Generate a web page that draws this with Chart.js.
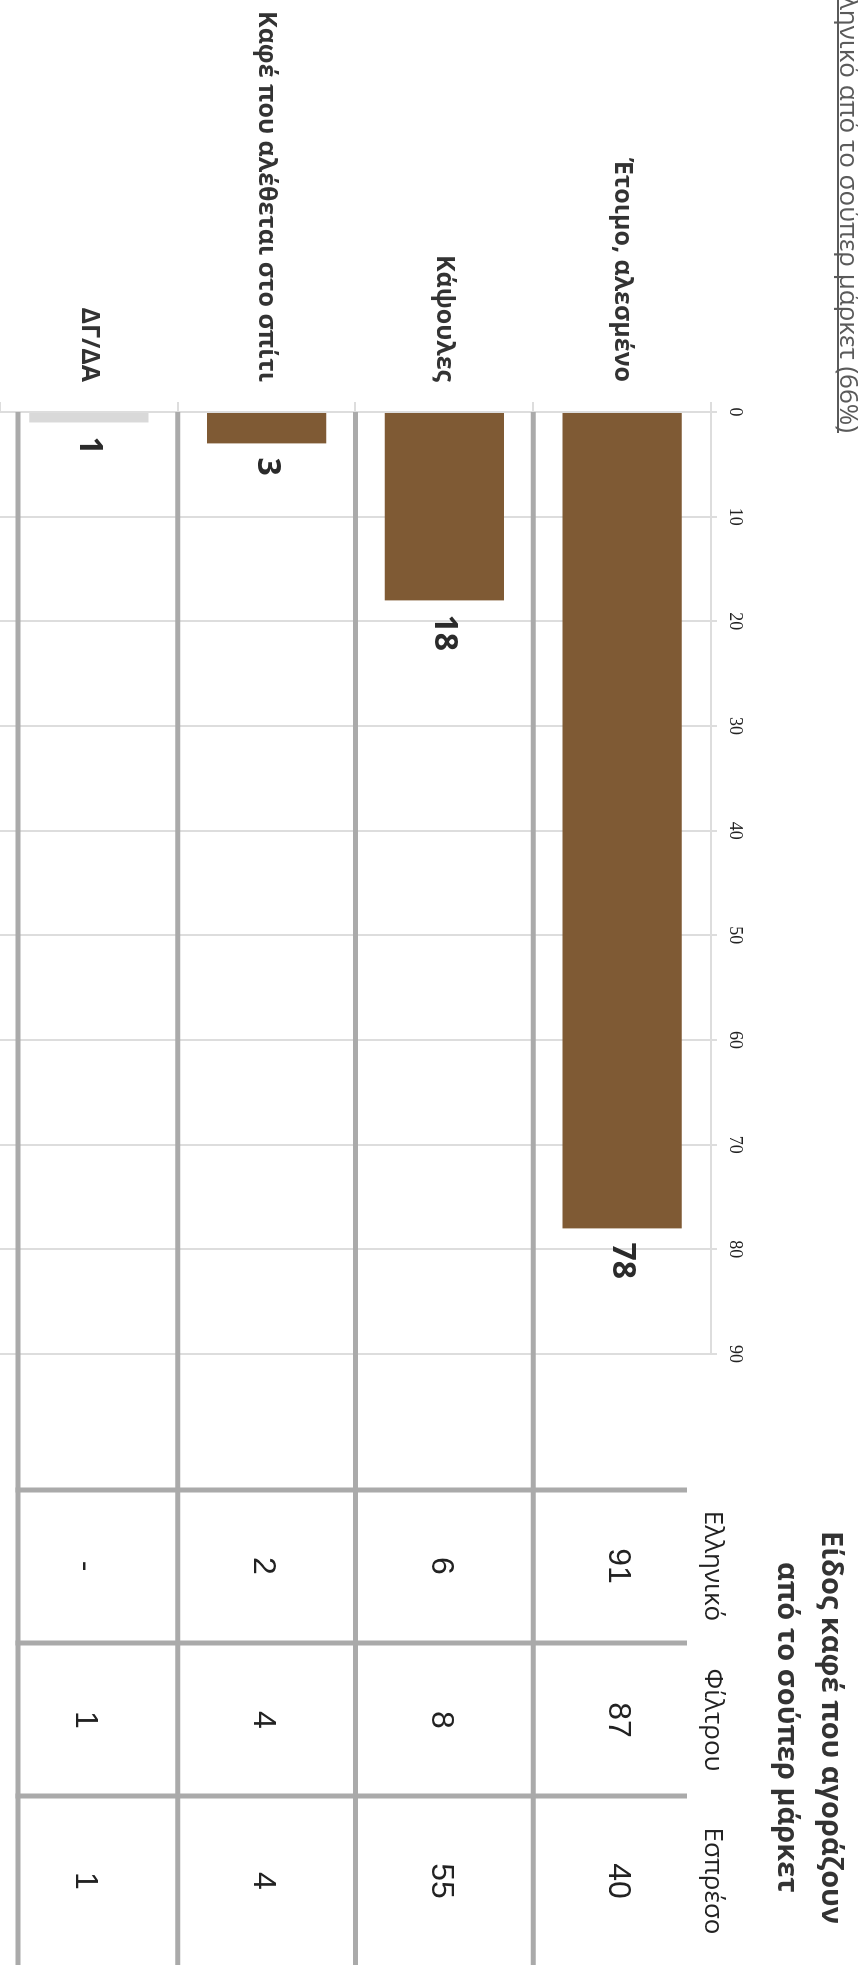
<!DOCTYPE html>
<html>
<head>
<meta charset="utf-8">
<script src="https://cdn.jsdelivr.net/npm/chart.js@4.4.1/dist/chart.umd.min.js"></script>
<style>
  html, body { margin: 0; padding: 0; background: #fff; }
  body { width: 858px; height: 1975px; overflow: hidden; position: relative; }
  /* the chart is laid out landscape and turned a quarter clockwise */
  #stage {
    position: absolute; left: 0; top: 0;
    width: 1975px; height: 858px; overflow: hidden; background: #fff;
    transform-origin: 0 0; transform: translateX(858px) rotate(90deg);
  }
  #stage canvas { position: absolute; left: 0; top: 0; }
  #note {
    position: absolute; right: 1542px; top: -3px; white-space: nowrap;
    font: 26px 'Open Sans', sans-serif; line-height: 22px; color: #5a5a5a;
    border-bottom: 2px solid #5a5a5a;
  }
  #title {
    position: absolute; left: 1490px; width: 475px; top: 3px; text-align: center;
    font: bold 29px 'Open Sans', sans-serif; line-height: 44px; color: #333;
  }
</style>
</head>
<body>
<div id="stage">
  <canvas id="coffeeChart" width="1975" height="858"></canvas>
  <div id="note">Ελληνικό από το σούπερ μάρκετ (66%)</div>
  <div id="title">Είδος καφέ που αγοράζουν<br>από το σούπερ μάρκετ</div>
</div>
<script>
// ========================
// DATA
// ========================
const categories = ["Έτοιμο, αλεσμένο", "Κάψουλες", "Καφέ που αλέθεται στο σπίτι", "ΔΓ/ΔΑ"];
const shares = [78, 18, 3, 1];
const barColors = ["#7f5a34", "#7f5a34", "#7f5a34", "#d9d9d9"];

const tableHeaders = ["Ελληνικό", "Φίλτρου", "Εσπρέσο"];
const greekCol = ["91", "6", "2", "-"];
const filterCol = ["87", "8", "4", "1"];
const espressoCol = ["40", "55", "4", "1"];

// ========================
// TABLE + LABELS OVERLAY
// ========================
const tableLines = [1490, 1643, 1796];
const tableRight = 1965;
const colCenters = [1566, 1720, 1881];

const overlay = {
  id: "overlay",
  afterDatasetsDraw(chart) {
    const { ctx, chartArea } = chart;
    const y = chart.scales.y;
    const meta = chart.getDatasetMeta(0);
    ctx.save();

    // value labels at the end of each bar
    ctx.font = "bold 32px 'Open Sans', sans-serif";
    ctx.fillStyle = "#2b2b2b";
    ctx.textAlign = "left";
    ctx.textBaseline = "middle";
    meta.data.forEach((bar, i) => ctx.fillText(String(shares[i]), bar.x + 14, bar.y));

    // thick row / column rules
    const half = (y.getPixelForValue(1) - y.getPixelForValue(0)) / 2;
    const lastRule = chartArea.bottom - 18;
    ctx.strokeStyle = "#aaaaaa";
    ctx.lineWidth = 5;
    categories.forEach((c, i) => {
      const yy = Math.min(y.getPixelForValue(i) + half, lastRule);
      ctx.beginPath();
      ctx.moveTo(chartArea.left, yy);
      ctx.lineTo(tableRight, yy);
      ctx.stroke();
    });
    tableLines.forEach(tx => {
      ctx.beginPath();
      ctx.moveTo(tx, chartArea.top + 24);
      ctx.lineTo(tx, lastRule + 2.5);
      ctx.stroke();
    });

    // table headers and cells
    ctx.textAlign = "center";
    ctx.fillStyle = "#222";
    ctx.font = "26px 'Open Sans', sans-serif";
    tableHeaders.forEach((h, j) => ctx.fillText(h, colCenters[j], chartArea.top - 1));

    ctx.font = "32px 'Liberation Sans', Arial, sans-serif";
    [greekCol, filterCol, espressoCol].forEach((col, j) => {
      col.forEach((v, i) => ctx.fillText(v, colCenters[j], y.getPixelForValue(i) + 4));
    });

    ctx.restore();
  }
};

// ========================
// CHART
// ========================
new Chart(document.getElementById("coffeeChart"), {
  type: "bar",
  data: {
    labels: categories,
    datasets: [{
      data: shares,
      backgroundColor: barColors,
      barPercentage: 0.67,
      categoryPercentage: 1
    }]
  },
  options: {
    indexAxis: "y",
    responsive: false,
    animation: false,
    devicePixelRatio: 1,
    layout: { padding: { top: 0, right: 621, bottom: 0, left: 0 } },
    plugins: {
      legend: { display: false },
      tooltip: { enabled: false }
    },
    scales: {
      x: {
        position: "top",
        min: 0,
        max: 90,
        ticks: {
          stepSize: 10,
          color: "#222",
          padding: 7,
          font: { family: "'Liberation Serif', 'DejaVu Serif', serif", size: 18 }
        },
        grid: { color: "#dddddd", lineWidth: 2, tickLength: 6 },
        border: { color: "#dddddd", width: 2 },
        afterFit: s => {
          s.height = 147;
          s.paddingLeft = 0;
          s.paddingRight = 0;
        }
      },
      y: {
        ticks: {
          color: "#333",
          padding: 20,
          font: { family: "'Open Sans', sans-serif", size: 25, weight: "bold" }
        },
        grid: { offset: true, drawOnChartArea: false, color: "#dddddd", lineWidth: 2, tickLength: 10 },
        border: { display: false },
        afterFit: s => {
          s.width = 412;
          s.paddingTop = 0;
          s.paddingBottom = 0;
        }
      }
    }
  },
  plugins: [overlay]
});
</script>
</body>
</html>
